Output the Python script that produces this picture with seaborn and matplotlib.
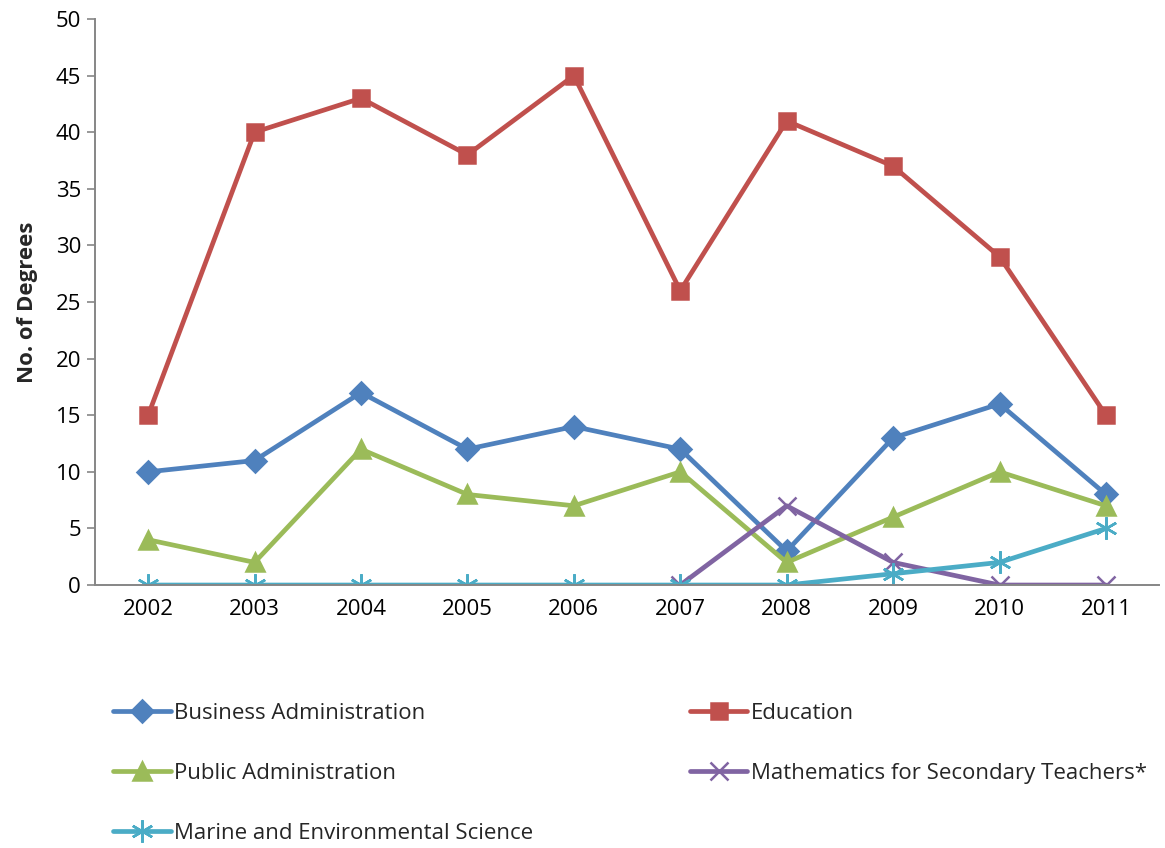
import pandas as pd
import matplotlib.pyplot as plt
import seaborn as sns
from matplotlib.lines import Line2D

years = ['2002', '2003', '2004', '2005', '2006', '2007', '2008', '2009', '2010', '2011']
business = [10, 11, 17, 12, 14, 12, 3, 13, 16, 8]
education = [15, 40, 43, 38, 45, 26, 41, 37, 29, 15]
public = [4, 2, 12, 8, 7, 10, 2, 6, 10, 7]
maths = [None, None, None, None, None, 0, 7, 2, 0, 0]
marine = [0, 0, 0, 0, 0, 0, 0, 1, 2, 5]

series = [
    ('Business Administration', business, '#4F81BD', 'D', 11),
    ('Education', education, '#C0504D', 's', 12),
    ('Public Administration', public, '#9BBB59', '^', 13),
    ('Mathematics for Secondary Teachers*', maths, '#8064A2', 'x', 13),
    ('Marine and Environmental Science', marine, '#4BACC6', (6, 2, 0), 16),
]

sns.set_style('white')
plt.rcParams['font.family'] = ['Open Sans', 'DejaVu Sans']

fig = plt.figure(figsize=(11.65, 8.48), dpi=100)
ax = fig.add_axes([0.0815, 0.3101, 0.9135, 0.6675])

handles = {}
for name, vals, color, marker, ms in series:
    df = pd.DataFrame({'pos': range(len(years)), 'value': vals}).dropna()
    sns.lineplot(data=df, x='pos', y='value', ax=ax, color=color, lw=3.4,
                 marker=marker, markersize=ms, markeredgecolor=color,
                 markeredgewidth=1.8, legend=False)
    handles[name] = Line2D([], [], color=color, lw=3.4, marker=marker,
                           markersize=ms, markeredgecolor=color,
                           markeredgewidth=1.8, solid_capstyle='round')

ax.set_xlim(-0.5, len(years) - 0.5)
ax.set_ylim(0, 50)
ax.set_yticks(range(0, 51, 5))
ax.set_xticks(range(len(years)))
ax.set_xticklabels(years)
ax.tick_params(axis='both', labelsize=16, colors='black')
ax.tick_params(axis='y', length=6, color='#868686', width=1.2, left=True, pad=4)
ax.tick_params(axis='x', length=0, pad=10)
ax.set_xlabel('')
ax.set_ylabel('No. of Degrees', fontsize=16, fontweight='bold', labelpad=13)
for side in ['top', 'right']:
    ax.spines[side].set_visible(False)
for side in ['left', 'bottom']:
    ax.spines[side].set_color('#868686')
    ax.spines[side].set_linewidth(1.4)

col1 = ['Business Administration', 'Public Administration', 'Marine and Environmental Science']
col2 = ['Education', 'Mathematics for Secondary Teachers*']
leg_kw = dict(loc='upper left', frameon=False, fontsize=16, handlelength=2.6,
              handletextpad=0.15, labelspacing=1.75, borderpad=0, borderaxespad=0)
fig.legend([handles[n] for n in col1], col1, bbox_to_anchor=(0.097, 0.171), **leg_kw)
fig.legend([handles[n] for n in col2], col2, bbox_to_anchor=(0.592, 0.171), **leg_kw)

plt.savefig('out.png', dpi=100)
